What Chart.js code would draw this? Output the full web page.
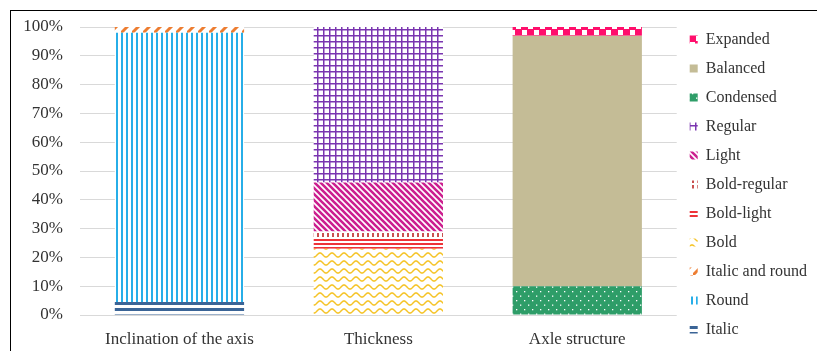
<!DOCTYPE html>
<html>
<head>
<meta charset="utf-8">
<script src="https://cdn.jsdelivr.net/npm/chart.js@4"></script>
<style>
  body { margin: 0; background: #fff; }
  #frame { position: absolute; left: 10px; top: 10px; width: 807px; height: 341px;
           border-left: 1px solid #000; border-top: 1px solid #000; }
</style>
</head>
<body>
<div id="frame"><canvas id="myChart" width="806" height="340"></canvas></div>
<script>
// categories and stacked series (percent)
const categories = ['Inclination of the axis', 'Thickness', 'Axle structure'];
const italic        = [4.5, 0, 0];
const round         = [93.5, 0, 0];
const italicRound   = [2, 0, 0];
const bold          = [0, 23, 0];
const boldLight     = [0, 4, 0];
const boldRegular   = [0, 2, 0];
const light         = [0, 17, 0];
const regular       = [0, 54, 0];
const condensed     = [0, 0, 10];
const balanced      = [0, 0, 87];
const expanded      = [0, 0, 3];
const yTicks = [0, 10, 20, 30, 40, 50, 60, 70, 80, 90, 100];

const ctx = document.getElementById('myChart').getContext('2d');

// small tile -> repeating pattern
function makePattern(w, h, draw) {
    const c = document.createElement('canvas');
    c.width = w; c.height = h;
    const g = c.getContext('2d');
    g.fillStyle = '#fff';
    g.fillRect(0, 0, w, h);
    draw(g, w, h);
    return ctx.createPattern(c, 'repeat');
}

const pItalic = makePattern(6, 6, g => { g.fillStyle = '#3A6496'; g.fillRect(0, 3, 6, 3); });
const pRound = makePattern(5, 1, g => { g.fillStyle = '#27AEE8'; g.fillRect(0, 0, 2, 1); });
const pItalicRound = makePattern(11, 11, g => {
    g.strokeStyle = '#ED7D31'; g.lineWidth = 3;
    g.beginPath();
    g.moveTo(-2, 13); g.lineTo(13, -2);
    g.stroke();
});
const pBold = makePattern(12, 8, g => {
    g.strokeStyle = '#F5C325'; g.lineWidth = 1.5;
    g.beginPath();
    for (let x = -1; x <= 13; x += 0.5) {
        const y = 4 + 2 * Math.sin(x / 12 * Math.PI * 2);
        if (x === -1) g.moveTo(x, y); else g.lineTo(x, y);
    }
    g.stroke();
});
const pBoldLight = makePattern(1, 4, g => { g.fillStyle = '#EE3338'; g.fillRect(0, 0, 1, 2); });
const pBoldRegular = makePattern(5, 6, g => { g.fillStyle = '#C9504F'; g.fillRect(1, 0, 2, 4); });
const pLight = makePattern(6, 6, g => {
    g.strokeStyle = '#CC1F8F'; g.lineWidth = 2.6;
    g.beginPath();
    g.moveTo(-1, -1); g.lineTo(7, 7);
    g.moveTo(-4, 2); g.lineTo(4, 10);
    g.moveTo(2, -4); g.lineTo(10, 4);
    g.stroke();
});
const pRegular = makePattern(6, 6, g => { g.fillStyle = '#7A35B0'; g.fillRect(0, 0, 6, 1.5); g.fillRect(0, 0, 1.5, 6); });
const pCondensed = makePattern(8, 9, g => {
    g.fillStyle = '#2E9D68'; g.fillRect(0, 0, 8, 9);
    g.fillStyle = '#fff';
    g.fillRect(1, 1, 1.3, 1.3);
    g.fillRect(5, 5.5, 1.3, 1.3);
});
const pExpanded = makePattern(12, 12, g => {
    g.fillStyle = '#FF0F6C'; g.fillRect(0, 0, 12, 12);
    g.fillStyle = '#fff';
    g.fillRect(1, 1, 5, 5);
    g.fillRect(7, 7, 5, 5);
});

function ds(label, data, fill) {
    return { label: label, data: data, backgroundColor: fill, borderWidth: 0,
             barPercentage: 0.65, categoryPercentage: 1.0 };
}

const font = { family: "'Liberation Serif', serif", size: 17 };

const myChart = new Chart(ctx, {
    type: 'bar',
    data: {
        labels: categories,
        datasets: [
            ds('Italic', italic, pItalic),
            ds('Round', round, pRound),
            ds('Italic and round', italicRound, pItalicRound),
            ds('Bold', bold, pBold),
            ds('Bold-light', boldLight, pBoldLight),
            ds('Bold-regular', boldRegular, pBoldRegular),
            ds('Light', light, pLight),
            ds('Regular', regular, pRegular),
            ds('Condensed', condensed, pCondensed),
            ds('Balanced', balanced, '#C4BC96'),
            ds('Expanded', expanded, pExpanded)
        ]
    },
    options: {
        responsive: false,
        animation: false,
        layout: { padding: { top: 7, right: 0, bottom: 0, left: 0 } },
        plugins: {
            tooltip: { enabled: false },
            legend: {
                position: 'right',
                reverse: true,
                labels: { font: { family: "'Liberation Serif', serif", size: 16 }, color: '#333',
                          boxWidth: 8, boxHeight: 8, padding: 13 }
            }
        },
        scales: {
            x: {
                stacked: true,
                grid: { display: false },
                border: { display: false },
                ticks: { font: font, color: '#333', padding: 6, maxRotation: 0 },
                afterFit: s => { s.height = 36; }
            },
            y: {
                stacked: true,
                min: 0,
                max: 100,
                afterBuildTicks: s => { s.ticks = yTicks.map(v => ({ value: v })); },
                grid: { color: '#D9D9D9', lineWidth: 1, drawTicks: false },
                border: { display: false },
                ticks: { font: font, color: '#333', padding: 17, callback: v => v + '%' },
                afterFit: s => { s.width = 69; s.paddingTop = 16; }
            }
        }
    }
});
</script>
</body>
</html>
